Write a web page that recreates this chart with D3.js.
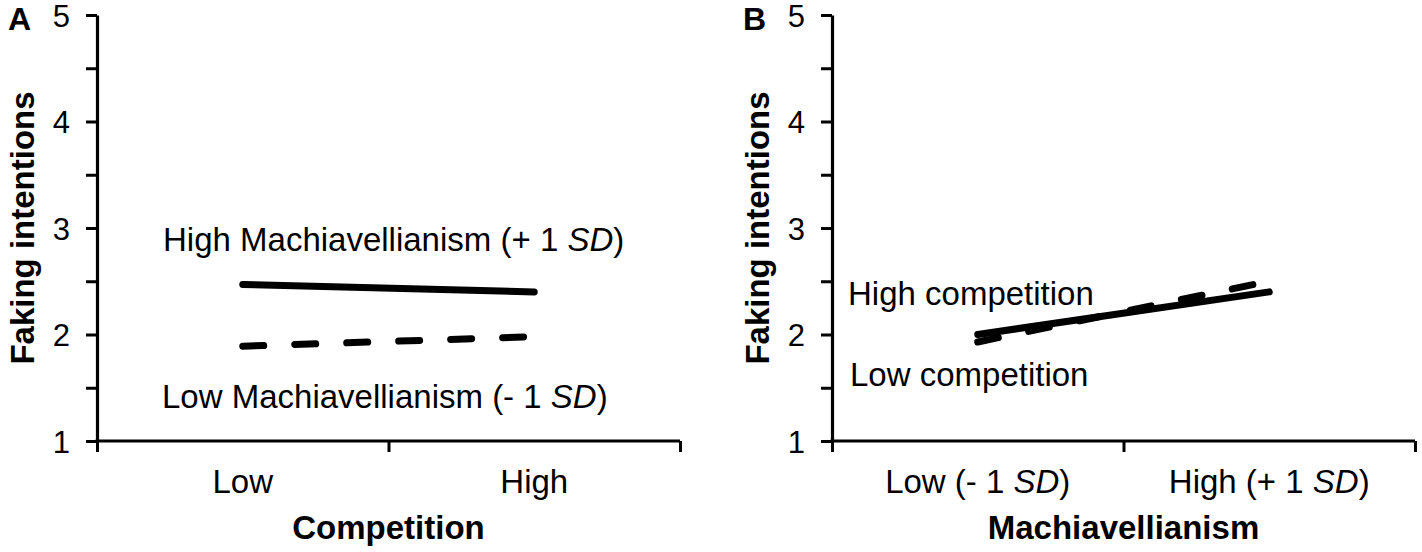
<!DOCTYPE html>
<html>
<head>
<meta charset="utf-8">
<script src="https://cdn.jsdelivr.net/npm/d3@7"></script>
<style>
  html, body { margin: 0; padding: 0; background: #fff; }
  svg { display: block; }
  text { font-family: "Liberation Sans", Arial, sans-serif; fill: #000; }
</style>
</head>
<body>
<svg id="chart" width="1422" height="552"></svg>
<script>
// ---------- data ----------
const panelLetters = ["A", "B"];
const yTicks = [1, 2, 3, 4, 5];
const yMinorTicks = [1.5, 2.5, 3.5, 4.5];
const yTitle = "Faking intentions";

const categoriesA = ["Low", "High"];
const xTitleA = "Competition";
const highMachA = [2.47, 2.40];   // High Machiavellianism (+1 SD), solid
const lowMachA  = [1.89, 1.98];   // Low Machiavellianism (-1 SD), dashed
const labelHighA = ["High Machiavellianism (+ 1 ", "SD", ")"];
const labelLowA  = ["Low Machiavellianism (- 1 ", "SD", ")"];

const categoriesB = [["Low (- 1 ", "SD", ")"], ["High (+ 1 ", "SD", ")"]];
const xTitleB = "Machiavellianism";
const highCompB = [2.00, 2.40];   // High competition, solid
const lowCompB  = [1.93, 2.50];   // Low competition, dashed
const labelHighB = ["High competition"];
const labelLowB  = ["Low competition"];

// ---------- drawing ----------
const svg = d3.select("#chart");
const y = d3.scaleLinear().domain([1, 5]).range([441, 15]);

function addText(g, parts, x, yy, opts) {
  const t = g.append("text").attr("x", x).attr("y", yy)
    .attr("font-size", opts.size).attr("text-anchor", opts.anchor || "start");
  if (opts.bold) t.attr("font-weight", "bold");
  parts.forEach((p, i) => {
    const s = t.append("tspan").text(p);
    if (parts.length === 3 && i === 1) s.attr("font-style", "italic");
  });
  return t;
}

function panel(cfg) {
  const g = svg.append("g");
  const x0 = cfg.left, x1 = cfg.left + 583;
  const catKeys = cfg.categories.map((c, i) => i);
  const x = d3.scaleBand().domain(catKeys).range([x0, x1]);
  const cx = i => x(i) + x.bandwidth() / 2;
  const xb = d3.scaleLinear().domain([0, cfg.categories.length]).range([x0, x1]);

  // y axis major ticks
  const ya = g.append("g").attr("transform", `translate(${x0},0)`)
    .call(d3.axisLeft(y).tickValues(yTicks).tickSize(11).tickSizeOuter(0)
      .tickPadding(16).tickFormat(d3.format("d")));
  // y axis minor ticks
  const ym = g.append("g").attr("transform", `translate(${x0},0)`)
    .call(d3.axisLeft(y).tickValues(yMinorTicks).tickSize(11).tickSizeOuter(0).tickFormat(""));
  ym.select(".domain").remove();
  [ya, ym].forEach(a => {
    a.selectAll("line").attr("stroke", "#000").attr("stroke-width", 3);
    a.select(".domain").attr("stroke", "#000").attr("stroke-width", 3.2);
    a.selectAll("text").attr("font-size", 31).attr("font-family", "Liberation Sans, Arial, sans-serif")
      .attr("dy", "0.36em");
  });

  // x axis boundary ticks
  const xa = g.append("g").attr("transform", `translate(0,${y(1)})`)
    .call(d3.axisBottom(xb).tickValues(d3.range(cfg.categories.length + 1))
      .tickSize(11).tickSizeOuter(0).tickFormat(""));
  xa.select(".domain").attr("stroke", "#000").attr("stroke-width", 3.2)
    .attr("d", `M${x0 - 1.5},0H${x1}`);
  xa.selectAll("line").attr("stroke", "#000").attr("stroke-width", 3);

  // category labels
  cfg.categories.forEach((c, i) => {
    addText(g, Array.isArray(c) ? c : [c], cx(i), 493, { size: 33, anchor: "middle" });
  });

  // axis titles
  addText(g, [cfg.xTitle], (x0 + x1) / 2, 539, { size: 33, anchor: "middle", bold: true });
  g.append("text")
    .attr("transform", `translate(${x0 - 63},${(y(1) + y(5)) / 2}) rotate(-90)`)
    .attr("text-anchor", "middle").attr("font-size", 33).attr("font-weight", "bold")
    .text(yTitle);

  // panel letter
  g.append("text").attr("x", x0 - 89).attr("y", 30).attr("font-size", 32)
    .attr("font-weight", "bold").text(cfg.letter);

  // lines
  const line = d3.line().x((d, i) => cx(i)).y(d => y(d));
  g.append("path").datum(cfg.solid).attr("d", line)
    .attr("fill", "none").attr("stroke", "#000").attr("stroke-width", 7)
    .attr("stroke-linecap", "round");
  g.append("path").datum(cfg.dashed).attr("d", line)
    .attr("fill", "none").attr("stroke", "#000").attr("stroke-width", 7)
    .attr("stroke-linecap", "round").attr("stroke-dasharray", "21,31");

  // annotations
  addText(g, cfg.labelHigh, cfg.labelHighPos[0], cfg.labelHighPos[1], { size: 33 });
  addText(g, cfg.labelLow, cfg.labelLowPos[0], cfg.labelLowPos[1], { size: 33 });
}

panel({
  letter: panelLetters[0], left: 97, categories: categoriesA, xTitle: xTitleA,
  solid: highMachA, dashed: lowMachA,
  labelHigh: labelHighA, labelHighPos: [163, 251],
  labelLow: labelLowA, labelLowPos: [162, 408]
});
panel({
  letter: panelLetters[1], left: 832, categories: categoriesB, xTitle: xTitleB,
  solid: highCompB, dashed: lowCompB,
  labelHigh: labelHighB, labelHighPos: [848, 305],
  labelLow: labelLowB, labelLowPos: [850, 386]
});
</script>
</body>
</html>
